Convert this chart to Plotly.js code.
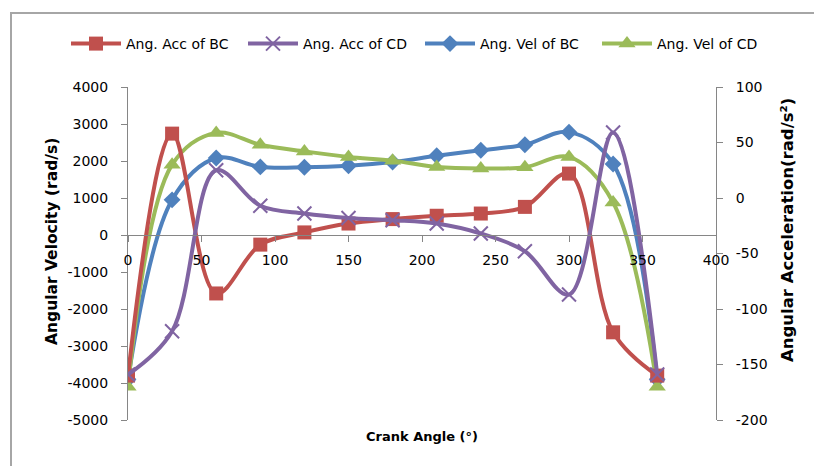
<!DOCTYPE html>
<html>
<head>
<meta charset="utf-8">
<script src="https://cdn.plot.ly/plotly-3.0.1.min.js"></script>
<style>
  html, body { margin: 0; padding: 0; background: #fff; }
  #wrap { position: relative; width: 814px; height: 466px; overflow: hidden; }
  #chart { width: 814px; height: 466px; }
  #frame { position: absolute; left: 10px; top: 12px; width: 830px; height: 480px;
           border-left: 2px solid #a6a6a6; border-top: 2px solid #a6a6a6; pointer-events: none; }
</style>
</head>
<body>
<div id="wrap">
  <div id="chart"></div>
  <div id="frame"></div>
</div>
<script>
// Crank angle (degrees)
const crankAngle = [0, 30, 60, 90, 120, 150, 180, 210, 240, 270, 300, 330, 360];

// Angular accelerations (right axis, rad/s²)
const accBC = [-160, 58, -86, -42, -31, -23, -19, -16, -14, -8, 22, -121, -160];
const accCD = [-159, -120, 25, -7, -14, -18, -20, -23, -32, -48, -87, 59, -159];

// Angular velocities (left axis, rad/s)
const velBC = [-3900, 950, 2080, 1840, 1830, 1870, 1970, 2140, 2290, 2440, 2780, 1920, -3900];
const velCD = [-4100, 1900, 2760, 2440, 2260, 2110, 2010, 1840, 1800, 1830, 2110, 880, -4100];

// Tick labels
const xTicks = [0, 50, 100, 150, 200, 250, 300, 350, 400];
const leftTicks = [-5000, -4000, -3000, -2000, -1000, 0, 1000, 2000, 3000, 4000];
const leftTickLabels = ["-5000", "-4000", "-3000", "-2000", "-1000", "0", "1000", "2000", "3000", "4000"];
const rightTicks = [-200, -150, -100, -50, 0, 50, 100];
const rightTickLabels = ["-200", "-150", "-100", "-50", "0", "50", "100"];

const seriesNames = ["Ang. Acc of BC", "Ang. Acc of CD", "Ang. Vel of BC", "Ang. Vel of CD"];
const colors = ["#C0504D", "#8064A2", "#4F81BD", "#9BBB59"];

const xTitle = "Crank Angle (°)";
const leftTitle = "Angular Velocity (rad/s)";
const rightTitle = "Angular Acceleration(rad/s²)";

const leftRange = [-5000, 4000];
const rightRange = [-200, 100];
const xRange = [0, 400];

const font = "DejaVu Sans, Verdana, sans-serif";
const axisGray = "#868686";

function trace(y, i, symbol, size, yaxis) {
  return {
    x: crankAngle, y: y, name: seriesNames[i], yaxis: yaxis,
    type: "scatter", mode: "lines+markers",
    line: { color: colors[i], width: 4, shape: "spline", smoothing: 1 },
    marker: { color: colors[i], symbol: symbol, size: size,
              line: { color: colors[i], width: symbol === "x-thin" ? 2 : 0 } }
  };
}

const data = [
  trace(accBC, 0, "square", 14, "y2"),
  trace(accCD, 1, "x-thin", 14, "y2"),
  trace(velBC, 2, "diamond", 13, "y"),
  trace(velCD, 3, "triangle-up", 15, "y")
];

const plotL = 128, plotR = 716, plotT = 87, plotB = 420;
const px = (x) => (x - plotL) / (plotR - plotL);
const py = (y) => (plotB - y) / (plotB - plotT);

const layout = {
  width: 814, height: 466,
  margin: { l: plotL, r: 814 - plotR, t: plotT, b: 466 - plotB },
  paper_bgcolor: "#fff", plot_bgcolor: "#fff",
  font: { family: font, size: 14, color: "#000" },
  showlegend: true,
  legend: {
    orientation: "h", xref: "paper", yref: "paper",
    x: px(66), xanchor: "left",
    y: py(44), yanchor: "middle",
    itemwidth: 50, entrywidth: 112,
    font: { family: font, size: 14, color: "#000" },
    traceorder: "normal", bgcolor: "rgba(0,0,0,0)"
  },
  xaxis: {
    range: xRange, tickvals: xTicks,
    anchor: "free", position: (0 - leftRange[0]) / (leftRange[1] - leftRange[0]),
    showgrid: false, zeroline: false,
    showline: true, linecolor: axisGray, linewidth: 1,
    ticks: "outside", ticklen: 6, tickcolor: axisGray,
    ticklabelstandoff: 6,
    tickfont: { family: font, size: 14, color: "#000" }
  },
  yaxis: {
    range: leftRange, tickvals: leftTicks, ticktext: leftTickLabels,
    showgrid: false, zeroline: false,
    showline: true, linecolor: axisGray, linewidth: 1,
    ticks: "outside", ticklen: 6, tickcolor: axisGray,
    ticklabelstandoff: 10,
    tickfont: { family: font, size: 14, color: "#000" }
  },
  yaxis2: {
    range: rightRange, tickvals: rightTicks, ticktext: rightTickLabels,
    overlaying: "y", side: "right",
    showgrid: false, zeroline: false,
    showline: true, linecolor: axisGray, linewidth: 1,
    ticks: "outside", ticklen: 6, tickcolor: axisGray,
    ticklabelstandoff: 10,
    tickfont: { family: font, size: 14, color: "#000" }
  },
  annotations: [
    { text: xTitle, xref: "paper", yref: "paper",
      x: 0.5, y: py(436), xanchor: "center", yanchor: "middle",
      showarrow: false, font: { family: font, size: 13, color: "#000", weight: "bold" } },
    { text: leftTitle, xref: "paper", yref: "paper", textangle: -90,
      x: px(52), y: py(242), xanchor: "center", yanchor: "middle",
      showarrow: false, font: { family: font, size: 15.5, color: "#000", weight: "bold" } },
    { text: rightTitle, xref: "paper", yref: "paper", textangle: -90,
      x: px(787), y: py(230), xanchor: "center", yanchor: "middle",
      showarrow: false, font: { family: font, size: 16.5, color: "#000", weight: "bold" } }
  ]
};

Plotly.newPlot("chart", data, layout, { displayModeBar: false, staticPlot: true });
</script>
</body>
</html>
